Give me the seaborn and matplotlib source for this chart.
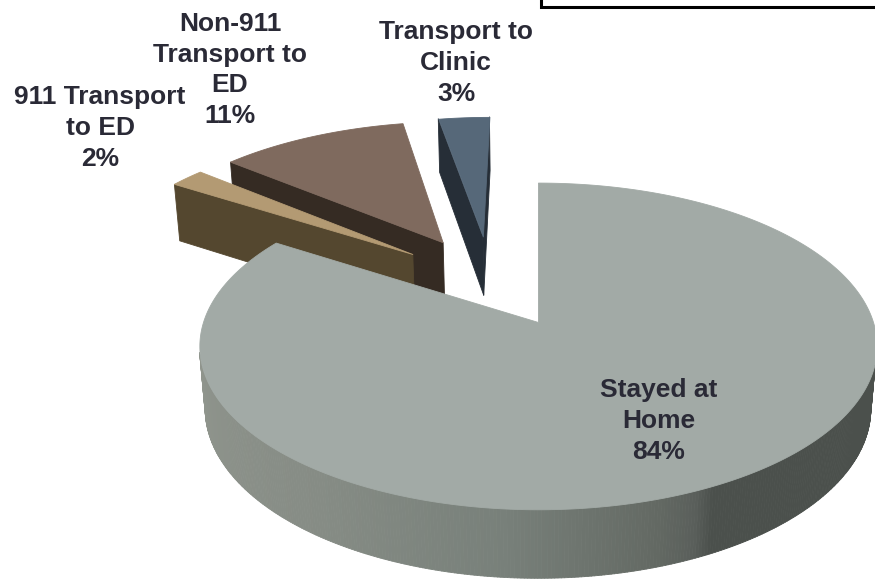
import numpy as np
import seaborn as sns
import matplotlib.pyplot as plt
import matplotlib.colors as mcolors
from matplotlib.collections import PolyCollection
from matplotlib.patches import Rectangle

# data (clockwise from 12 o'clock)
categories = ["Stayed at\nHome", "911 Transport\nto ED", "Non-911\nTransport to\nED", "Transport to\nClinic"]
values = [84, 2, 11, 3]
top_colors = ["#a2aaa6", "#b39a73", "#7f6a5e", "#566879"]
side_colors = ["#4b504c", "#54472f", "#352b23", "#262e37"]

# label anchors (pixel coords)
label_xy = [(659, 421), (100, 128), (230, 70), (456, 63)]

# 3d view settings
EXPLODE = 0.31
HEIGHT = 0.215
EL = np.radians(28.5)
DIST = 6.0
SCALE = 2010
ORIGIN = (538, 322)

sns.set_theme(style="white")
plt.rcParams['font.family'] = ['Liberation Sans', 'DejaVu Sans']

fig = plt.figure(figsize=(8.75, 5.83), dpi=100)
ax = fig.add_axes([0, 0, 1, 1])
ax.set_xlim(0, 875)
ax.set_ylim(583, 0)
ax.axis('off')

fracs = np.array(values) / sum(values)
spans = 360 * fracs
starts = 90 - np.concatenate([[0], np.cumsum(spans)[:-1]])
ends = starts - spans
mids = (starts + ends) / 2

gm = np.radians(mids[0])
pie_c = -EXPLODE * np.array([np.cos(gm), np.sin(gm)])
cam = np.array([0, -DIST * np.cos(EL), DIST * np.sin(EL)])


def proj(x, y, z):
    d = DIST + y * np.cos(EL) - z * np.sin(EL)
    return ORIGIN[0] + x / d * SCALE, ORIGIN[1] - (y * np.sin(EL) + z * np.cos(EL)) / d * SCALE


def visible(nang, p):
    n = np.array([np.cos(nang), np.sin(nang), 0])
    return np.dot(n, cam - p) > 1e-6


# outer wall shading of the big slice (angle in deg -> colour)
grad = [(180, "#92978f"), (235, "#868c85"), (265, "#78807a"), (288, "#636963"), (294, "#5a5f5b"), (297, "#4b504c"), (360, "#4b504c")]
g_ang = [g[0] for g in grad]
g_rgb = np.array([mcolors.to_rgb(g[1]) for g in grad])


def wall_color(t):
    t = t % 360
    return tuple(np.interp(t, g_ang, g_rgb[:, k]) for k in range(3))


order = []
for i in range(len(values)):
    m = np.radians(mids[i])
    apex = pie_c + EXPLODE * np.array([np.cos(m), np.sin(m)])
    order.append((apex[1] + 0.5 * np.sin(m), i, apex))
order.sort(key=lambda o: -o[0])

for _, i, apex in order:
    th = np.radians(np.linspace(starts[i], ends[i], max(int(spans[i] * 2), 4)))
    ox = apex[0] + np.cos(th)
    oy = apex[1] + np.sin(th)
    polys, cols = [], []
    # radial faces
    for ang, nang in [(th[0], th[0] + np.pi / 2), (th[-1], th[-1] - np.pi / 2)]:
        px, py = apex[0] + 0.5 * np.cos(ang), apex[1] + 0.5 * np.sin(ang)
        if visible(nang, np.array([px, py, -HEIGHT / 2])):
            xe, ye = apex[0] + np.cos(ang), apex[1] + np.sin(ang)
            quad = [proj(apex[0], apex[1], 0), proj(xe, ye, 0), proj(xe, ye, -HEIGHT), proj(apex[0], apex[1], -HEIGHT)]
            polys.append(quad)
            cols.append(side_colors[i])
    # outer wall
    for k in range(len(th) - 1):
        tm = (th[k] + th[k + 1]) / 2
        p = np.array([apex[0] + np.cos(tm), apex[1] + np.sin(tm), -HEIGHT / 2])
        if visible(tm, p):
            quad = [proj(ox[k], oy[k], 0), proj(ox[k + 1], oy[k + 1], 0),
                    proj(ox[k + 1], oy[k + 1], -HEIGHT), proj(ox[k], oy[k], -HEIGHT)]
            polys.append(quad)
            cols.append(wall_color(np.degrees(tm)) if i == 0 else side_colors[i])
    if polys:
        ax.add_collection(PolyCollection(polys, facecolors=cols, edgecolors=cols, linewidths=0.6))
    # top face
    top = [proj(apex[0], apex[1], 0)] + [proj(x, y, 0) for x, y in zip(ox, oy)]
    ax.add_collection(PolyCollection([top], facecolors=top_colors[i], edgecolors=top_colors[i], linewidths=0.6))

for i, (cat, v) in enumerate(zip(categories, values)):
    ax.text(label_xy[i][0], label_xy[i][1], f"{cat}\n{v}%", ha="center", va="center",
            fontsize=19, fontweight="bold", color="#2a2a36", linespacing=1.35)

# partly visible box in the top right corner
fig.patches.append(Rectangle((541 / 875, 1 - 6.5 / 583), 0.5, 0.1, transform=fig.transFigure,
                             facecolor="white", edgecolor="black", linewidth=2.2))

plt.savefig("out.png", dpi=100)
